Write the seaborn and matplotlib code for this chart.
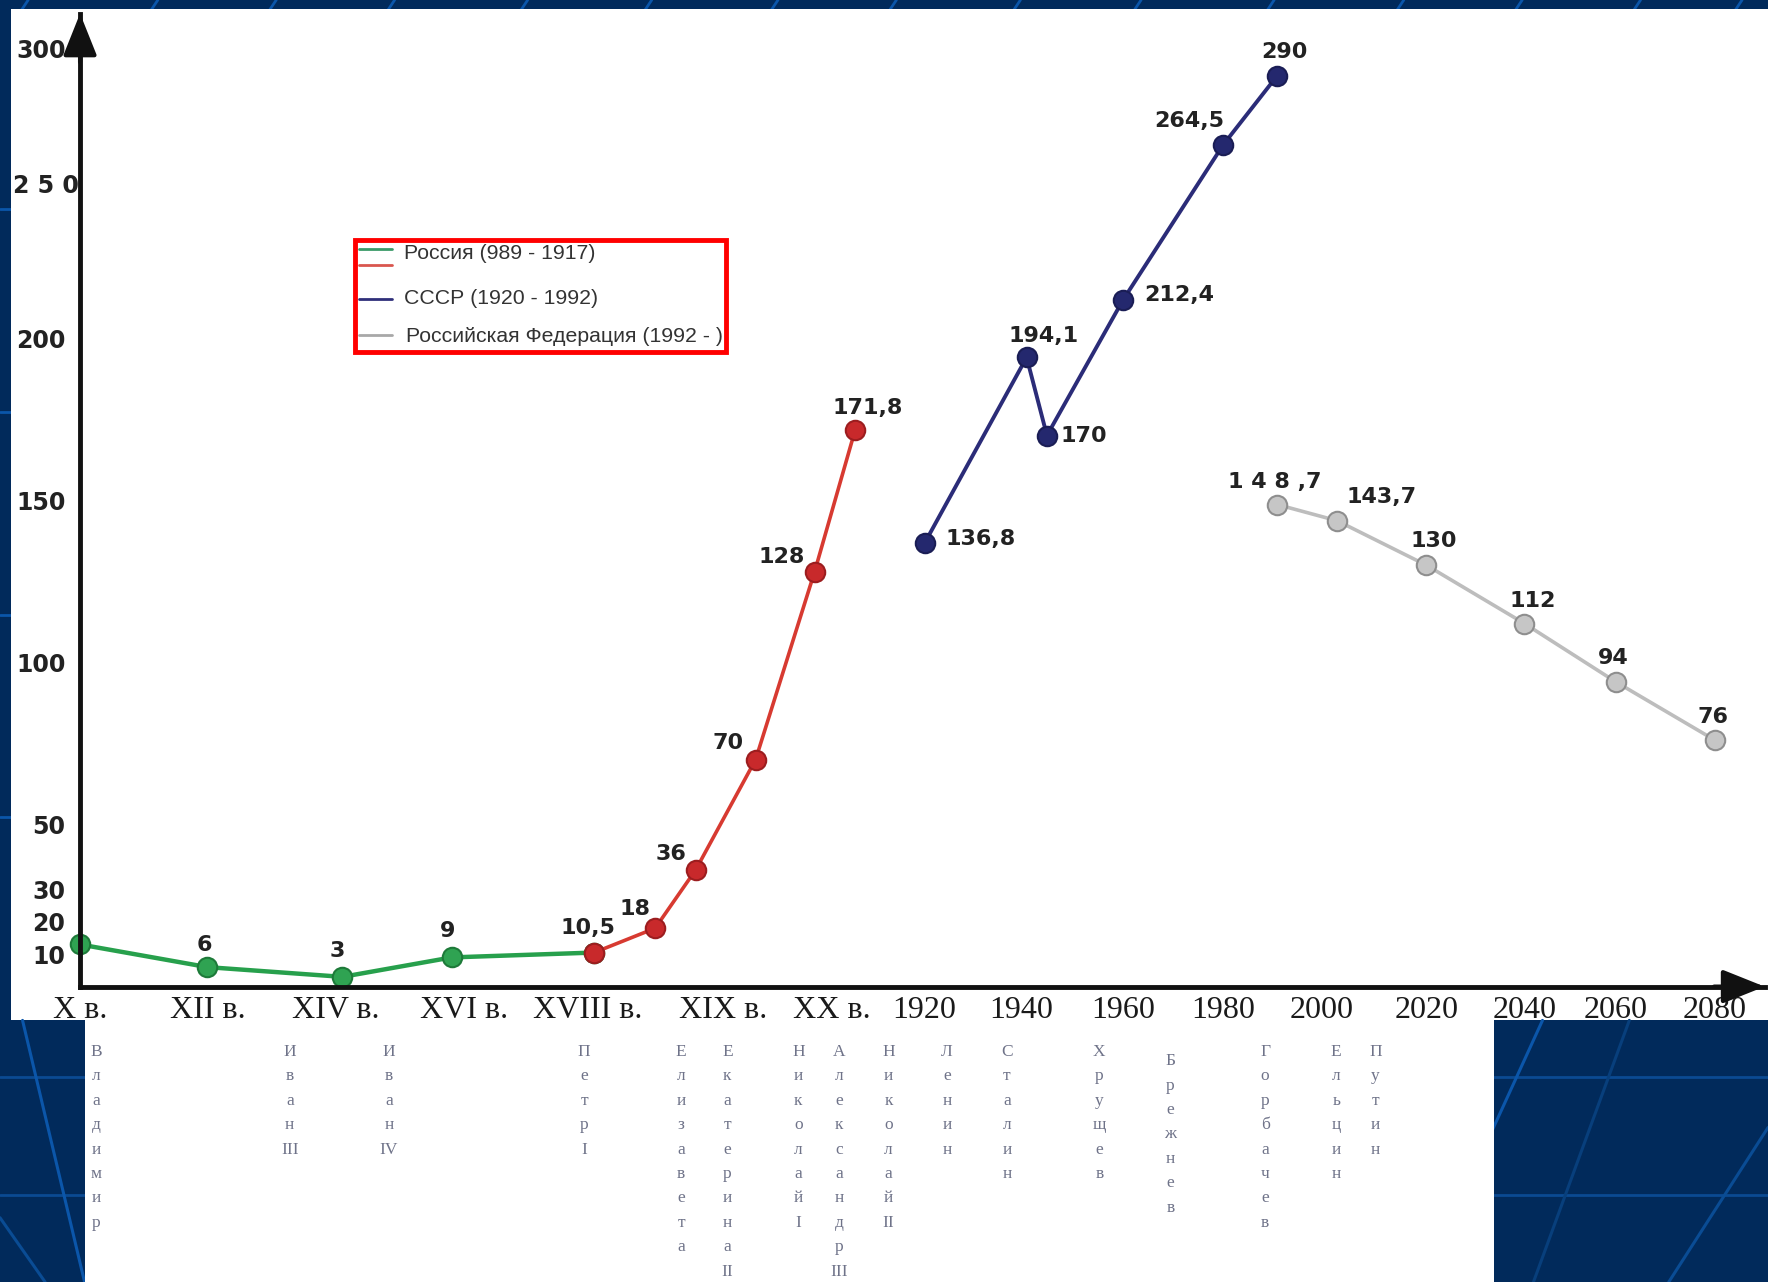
import numpy as np
import matplotlib
matplotlib.use("Agg")
import matplotlib.pyplot as plt
from matplotlib.patches import Rectangle
from matplotlib.lines import Line2D
from matplotlib.transforms import Bbox, TransformedBbox, ScaledTranslation
import seaborn as sns

# ---------------- data ----------------
russia_early_years = [900, 1100, 1310, 1480, 1705]
russia_early_pop = [13, 6, 3, 9, 10.5]
russia_late_years = [1705, 1750, 1780, 1830, 1884, 1905]
russia_late_pop = [10.5, 18, 36, 70, 128, 171.8]
ussr_years = [1920, 1941, 1945, 1960, 1980, 1991]
ussr_pop = [136.8, 194.1, 170, 212.4, 264.5, 290]
rf_years = [1991, 2003, 2020, 2040, 2060, 2080]
rf_pop = [148.7, 143.7, 130, 112, 94, 76]

x_tick_years = [900, 1100, 1300, 1500, 1700, 1800, 1900, 1920, 1940, 1960,
                1980, 2000, 2020, 2040, 2060, 2080]
x_tick_labels = ["X в.", "XII в.", "XIV в.", "XVI в.", "XVIII в.", "XIX в.", "XX в.",
                 "1920", "1940", "1960", "1980", "2000", "2020", "2040", "2060", "2080"]
y_tick_values = [10, 20, 30, 40, 50, 100, 150, 200, 250, 300]
y_tick_labels = ["10", "20", "30", "", "50", "100", "150", "200", "2 5 0", "300"]

legend_labels = ["Россия (989 - 1917)", "СССР (1920 - 1992)", "Российская Федерация (1992 - )"]
rulers = ["Владимир", "Иван III", "Иван IV", "Петр I", "Елизавета", "Екатерина II",
          "Николай I", "Александр III", "Николай II", "Ленин", "Сталин", "Хрущев",
          "Брежнев", "Горбачев", "Ельцин", "Путин"]
label_override = {148.7: "1 4 8 ,7"}

# ---------------- layout (reference frame 1568 x 1137) ----------------
W, H = 1568.0, 1137.0
def fx(x): return x / W
def fy(y): return 1 - y / H

ruler_x = [85, 257, 345, 518, 604, 645, 708, 744, 788, 840, 893, 975, 1038, 1122, 1185, 1220]
ruler_top = [926, 926, 926, 926, 926, 926, 926, 926, 926, 926, 926, 926, 934, 926, 926, 926]

# piecewise axis scales (the drawing's axes are not uniform)
XB = [700, 900, 1100, 1300, 1500, 1700, 1800, 1900, 1920, 1940, 1960, 1980, 2000,
      2020, 2040, 2060, 2080, 2300]
XP = [-113, 0, 113, 227, 341, 450, 570, 667, 749, 835, 925, 1014, 1101, 1194, 1281,
      1362, 1450, 2418]
YB = [-100, 0, 200, 250, 300, 500]
YP = [-287.5, 0, 575, 712, 832, 1312]

def xf(v): return np.interp(v, XB, XP)
def xi(v): return np.interp(v, XP, XB)
def yf(v): return np.interp(v, YB, YP)
def yi(v): return np.interp(v, YP, YB)

NAVY = "#012a5b"
sns.set_style("white")
plt.rcParams["font.family"] = ["DejaVu Sans"]

fig = plt.figure(figsize=(17.68, 12.82), dpi=100, facecolor=NAVY)

# background decoration lines (top / left strips)
for x0 in [25, 140, 245, 350, 468, 578, 690, 795, 905, 1012, 1130, 1245, 1350, 1455, 1545]:
    fig.add_artist(Line2D([fx(x0), fx(x0 - 8)], [fy(0), fy(12)], color="#0b56aa", lw=2, zorder=0.5))
for yy in [185, 365, 545, 725]:
    fig.add_artist(Line2D([0, fx(12)], [fy(yy), fy(yy)], color="#0b56aa", lw=2, zorder=0.5))

# white main panel
fig.add_artist(Rectangle((fx(10), fy(905)), 1 - fx(10), (905 - 8) / H,
                         facecolor="white", edgecolor="none", zorder=1))

ax = fig.add_axes([fx(71), fy(875), (1565 - 71) / W, (875 - 12) / H])
ax.set_zorder(2)
ax.patch.set_alpha(0)
ax.set_xscale("function", functions=(xf, xi))
ax.set_yscale("function", functions=(yf, yi))
ax.set_xlim(900, float(xi(1494)))
ax.set_ylim(0, float(yi(863)))

common = dict(marker="o", markersize=14, clip_on=False, markeredgewidth=1.5)
sns.lineplot(x=russia_early_years, y=russia_early_pop, ax=ax, color="#27a04c", lw=3.2,
             markerfacecolor="#2fa352", markeredgecolor="#1d7a39", **common)
sns.lineplot(x=russia_late_years, y=russia_late_pop, ax=ax, color="#d73a31", lw=2.6,
             markerfacecolor="#c8292b", markeredgecolor="#9c1d1f", **common)
sns.lineplot(x=ussr_years, y=ussr_pop, ax=ax, color="#2b2c78", lw=2.8,
             markerfacecolor="#24286e", markeredgecolor="#1a1d55", **common)
sns.lineplot(x=rf_years, y=rf_pop, ax=ax, color="#bdbdbd", lw=2.6,
             markerfacecolor="#c6c6c6", markeredgecolor="#8e8e8e", **common)

def fmt(v):
    if v in label_override:
        return label_override[v]
    return ("%g" % v).replace(".", ",")

# label offsets (reference px, dx right / dy up)
offs = {
    6: (-3, 20), 3: (-5, 23), 9: (-4, 23),
    18: (-18, 17), 36: (-22, 14), 70: (-24, 15), 128: (-29, 13), 171.8: (11, 19),
    136.8: (50, 4), 194.1: (15, 19), 170: (33, 0), 212.4: (50, 4), 264.5: (-30, 21), 290: (6, 21),
    148.7: (-2, 20), 143.7: (39, 21), 130: (7, 21), 112: (7, 20), 94: (-2, 21), 76: (-2, 21),
}
K = 1.1276 / 1.3889
points = [(x, y) for x, y in zip(russia_early_years[1:4], russia_early_pop[1:4])]
points += [(russia_late_years[0], russia_late_pop[0])]
points += list(zip(russia_late_years[1:], russia_late_pop[1:]))
points += list(zip(ussr_years, ussr_pop)) + list(zip(rf_years, rf_pop))
for x, y in points:
    dx, dy = offs.get(y, (-6, 22))
    ax.annotate(fmt(y), (x, y), xytext=(dx * K, dy * K), textcoords="offset points",
                ha="center", va="center", fontsize=16, fontweight="bold", color="#222222",
                annotation_clip=False)

# axes styling
for s in ["top", "right"]:
    ax.spines[s].set_visible(False)
for s in ["left", "bottom"]:
    ax.spines[s].set_linewidth(3.5)
    ax.spines[s].set_color("#111111")
ax.set_xticks(x_tick_years)
ax.set_xticklabels(x_tick_labels, fontsize=23, family="Liberation Serif", color="#1a1a1a")
ax.set_yticks(y_tick_values)
ax.set_yticklabels(y_tick_labels, fontsize=17, fontweight="bold", color="#222222")
ax.tick_params(axis="both", direction="inout", length=19, width=3, color="#111111")
ax.tick_params(axis="x", pad=-3)
ax.tick_params(axis="y", pad=1)
for lab in ax.get_yticklabels():
    if lab.get_text() == "2 5 0":
        lab.set_transform(lab.get_transform() + ScaledTranslation(0.13, 0, fig.dpi_scale_trans))
ax.set_xlabel("")
ax.set_ylabel("")
ax.grid(False)
ax.annotate("", xy=(0, 1), xycoords="axes fraction", xytext=(0, 0.95),
            arrowprops=dict(arrowstyle="-|>,head_length=1.0,head_width=0.4", color="#111111",
                            lw=3, mutation_scale=26, shrinkA=0, shrinkB=0))
ax.annotate("", xy=(1, 0), xycoords="axes fraction", xytext=(0.97, 0),
            arrowprops=dict(arrowstyle="-|>,head_length=1.0,head_width=0.4", color="#111111",
                            lw=3, mutation_scale=26, shrinkA=0, shrinkB=0))

# legend (manual, red framed box)
fig.add_artist(Rectangle((fx(315), fy(312)), (644 - 315) / W, (312 - 213) / H,
                         facecolor="white", edgecolor="#ff0000", lw=3.5, zorder=5))
clipbox = TransformedBbox(Bbox([[fx(317), fy(310)], [fx(642), fy(215)]]), fig.transFigure)
fig.add_artist(Line2D([fx(318), fx(348)], [fy(221), fy(221)], color="#3a9a68", lw=2, zorder=6))
fig.add_artist(Line2D([fx(318), fx(348)], [fy(235), fy(235)], color="#d9564e", lw=2, zorder=6))
fig.add_artist(Line2D([fx(318), fx(348)], [fy(265), fy(265)], color="#2f2f7a", lw=2, zorder=6))
fig.add_artist(Line2D([fx(318), fx(348)], [fy(297), fy(297)], color="#a8a8a8", lw=2, zorder=6))
for lab, yy, xx in zip(legend_labels, [225, 265, 298], [358, 358, 360]):
    t = fig.text(fx(xx), fy(yy), lab, ha="left", va="center", fontsize=15.3,
                 family="Liberation Sans", color="#333333", zorder=6)
    t.set_clip_box(clipbox)

# lower band: navy with decoration, white panel with ruler names
fig.add_artist(Rectangle((0, 0), 1, fy(905), facecolor=NAVY, edgecolor="none", zorder=3))
for yy in [955, 1060]:
    fig.add_artist(Line2D([0, 1], [fy(yy), fy(yy)], color="#0b4a92", lw=2, zorder=3.2))
for (x0, y0, x1, y1, c) in [(1368, 905, 1320, 1010, "#0b56aa"), (1445, 905, 1360, 1137, "#083f7c"),
                            (1568, 1000, 1480, 1137, "#0a4c94"), (20, 905, 75, 1137, "#0b56aa"),
                            (0, 1080, 40, 1137, "#0a4c94")]:
    fig.add_artist(Line2D([fx(x0), fx(x1)], [fy(y0), fy(y1)], color=c, lw=2.2, zorder=3.2))
fig.add_artist(Rectangle((fx(75), 0), (1325 - 75) / W, fy(905), facecolor="white",
                         edgecolor="none", zorder=3.5))

for name, xx, yt in zip(rulers, ruler_x, ruler_top):
    parts = name.split(" ")
    rows = list(parts[0]) + parts[1:]
    fig.text(fx(xx), fy(yt), "\n".join(rows), ha="center", va="top", fontsize=12.5,
             family="Liberation Serif", color="#6f7389", linespacing=1.7, zorder=4)

fig.savefig("out.png", dpi=100, facecolor=NAVY)
